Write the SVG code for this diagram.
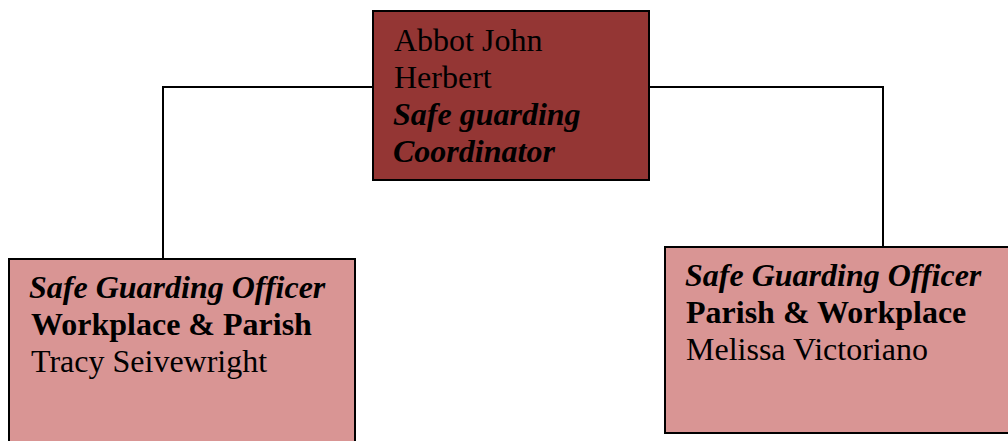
<svg xmlns="http://www.w3.org/2000/svg" width="1008" height="441" viewBox="0 0 1008 441">
<style>
.t{font-family:"Liberation Serif","Times New Roman",serif;font-size:32px;fill:#000}
.bi{font-weight:bold;font-style:italic}
.b{font-weight:bold}
.box{stroke:#000;stroke-width:2}
.top{fill:#943634}
.sub{fill:#D99594}
.conn{fill:none;stroke:#000;stroke-width:2}
</style>
<rect width="1008" height="441" fill="#fff"/>
<g id="connectors">
<polyline class="conn" points="373,87 163,87 163,259"/>
<polyline class="conn" points="649,87 883,87 883,247"/>
</g>
<g id="coordinator">
<rect class="box top" x="373" y="11" width="276" height="169"/>
<text class="t" x="394" y="51">Abbot John</text>
<text class="t" x="394" y="88">Herbert</text>
<text class="t bi" x="393" y="125">Safe guarding</text>
<text class="t bi" x="393" y="162">Coordinator</text>
</g>
<g id="officer-left">
<rect class="box sub" x="9" y="259" width="346" height="200"/>
<text class="t bi" x="29" y="298">Safe Guarding Officer</text>
<text class="t b" x="31" y="335">Workplace &amp; Parish</text>
<text class="t" x="31" y="372">Tracy Seivewright</text>
</g>
<g id="officer-right">
<rect class="box sub" x="665" y="247" width="360" height="186"/>
<text class="t bi" x="685" y="286">Safe Guarding Officer</text>
<text class="t b" x="686" y="323">Parish &amp; Workplace</text>
<text class="t" x="686" y="360">Melissa Victoriano</text>
</g>
</svg>
